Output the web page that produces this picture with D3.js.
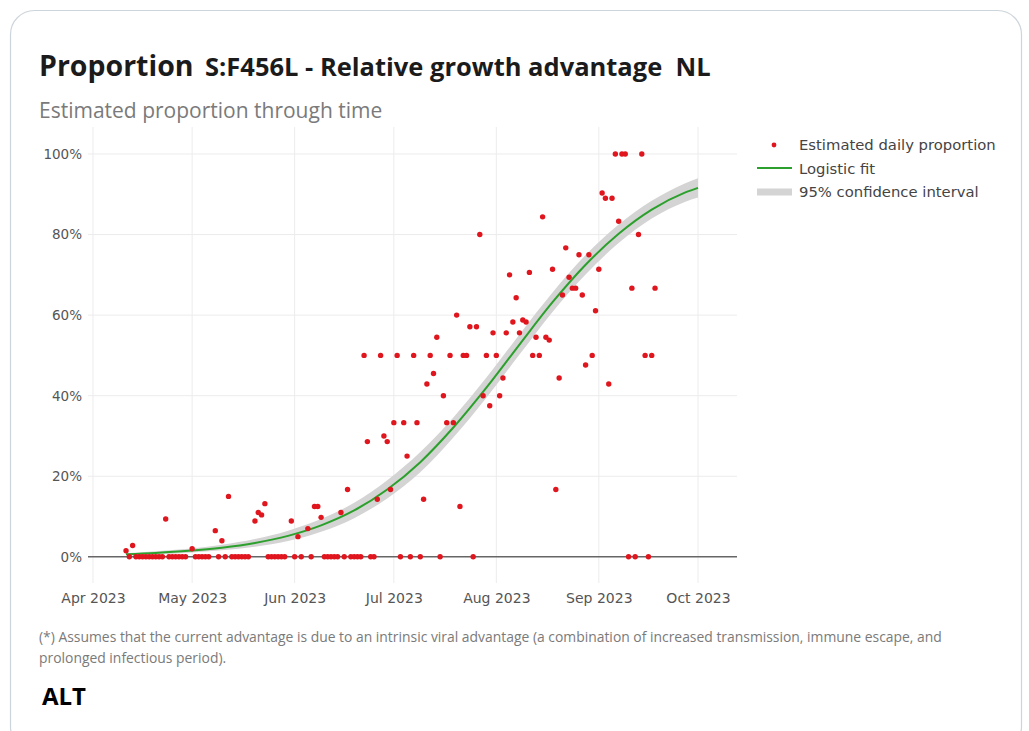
<!DOCTYPE html>
<html><head><meta charset="utf-8">
<script src="https://cdn.jsdelivr.net/npm/d3@7"></script>
<style>body{margin:0;background:#fff;} svg{display:block}</style>
</head><body><svg id="c" width="1029" height="731"></svg>
<script>
// ---------- data ----------
const obsDates = [
"2023-04-11","2023-04-12","2023-04-13","2023-04-14","2023-04-15","2023-04-16","2023-04-17","2023-04-18","2023-04-19","2023-04-20","2023-04-21","2023-04-22",
"2023-04-23","2023-04-24","2023-04-25","2023-04-26","2023-04-27","2023-04-28","2023-04-29",
"2023-05-01","2023-05-02","2023-05-03","2023-05-04","2023-05-05","2023-05-06",
"2023-05-08","2023-05-09","2023-05-10","2023-05-11","2023-05-12","2023-05-13","2023-05-14","2023-05-15","2023-05-16","2023-05-17","2023-05-18",
"2023-05-20","2023-05-21","2023-05-22","2023-05-23","2023-05-24","2023-05-25","2023-05-26","2023-05-27","2023-05-28","2023-05-29",
"2023-05-31","2023-06-01","2023-06-02","2023-06-03","2023-06-05","2023-06-06","2023-06-07","2023-06-08","2023-06-09",
"2023-06-10","2023-06-11","2023-06-12","2023-06-13","2023-06-14","2023-06-15","2023-06-16","2023-06-17",
"2023-06-18","2023-06-19","2023-06-20","2023-06-21","2023-06-22","2023-06-23","2023-06-24","2023-06-25","2023-06-26","2023-06-27","2023-06-28","2023-06-29","2023-06-30",
"2023-07-01","2023-07-02","2023-07-03","2023-07-04","2023-07-05","2023-07-06","2023-07-07","2023-07-08","2023-07-09","2023-07-10",
"2023-07-11","2023-07-12","2023-07-13","2023-07-14","2023-07-15","2023-07-16","2023-07-17","2023-07-18","2023-07-19","2023-07-20",
"2023-07-21","2023-07-22","2023-07-23","2023-07-24","2023-07-25","2023-07-26","2023-07-27","2023-07-28","2023-07-29","2023-07-30","2023-07-31",
"2023-08-01","2023-08-02","2023-08-03","2023-08-04","2023-08-05","2023-08-06","2023-08-07","2023-08-08","2023-08-09","2023-08-10",
"2023-08-11","2023-08-12","2023-08-13","2023-08-14","2023-08-15","2023-08-16","2023-08-17","2023-08-18","2023-08-19","2023-08-20",
"2023-08-21","2023-08-22","2023-08-23","2023-08-24","2023-08-25","2023-08-26","2023-08-27","2023-08-28","2023-08-29","2023-08-30","2023-08-31",
"2023-09-01","2023-09-02","2023-09-03","2023-09-04","2023-09-05","2023-09-06","2023-09-07","2023-09-08","2023-09-09","2023-09-10",
"2023-09-11","2023-09-12","2023-09-13","2023-09-14","2023-09-15","2023-09-16","2023-09-17","2023-09-18"
];
const obsValues = [
1.5,0,2.8,0,0,0,0,0,0,0,0,0,
9.4,0,0,0,0,0,0,
2.0,0,0,0,0,0,
6.5,0,4.0,0,15.0,0,0,0,0,0,0,
8.9,11.0,10.4,13.2,0,0,0,0,0,0,
8.9,0,5.0,0,7.0,0,12.5,12.5,9.8,
0,0,0,0,0,11.0,0,16.7,
0,0,0,0,50,28.6,0,0,14.3,50,30,28.6,16.7,
33.3,50,0,33.3,25,0,50,33.3,0,14.3,
42.9,50,45.5,54.5,0,40,33.3,50,33.3,60,
12.5,50,50,57.1,0,57.1,80,40,50,37.5,55.6,
50,40,44.4,55.6,70,58.3,64.3,55.6,58.8,58.3,
70.6,50,54.5,50,84.4,54.5,53.8,71.4,16.7,44.4,
65,76.7,69.4,66.7,66.7,75,65,47.6,75,50,61.1,
71.4,90.3,89,42.9,89,100,83.3,100,100,0,
66.7,0,80,100,50,0,50,66.7
];
const fitDates = ["2023-04-11","2023-04-20","2023-04-30","2023-05-10","2023-05-20","2023-05-30","2023-06-09","2023-06-19","2023-06-29","2023-07-09","2023-07-19","2023-07-29","2023-08-08","2023-08-18","2023-08-28","2023-09-07","2023-09-17","2023-09-27","2023-10-01"];
const fitValues = [0.66,0.97,1.49,2.27,3.45,5.2,7.8,11.5,16.7,23.5,32.1,42.0,52.7,63.2,72.5,80.2,86.2,90.4,91.6];
const ciLower  = [0.4,0.6,1.0,1.6,2.5,3.9,6.2,9.6,14.5,21.0,29.6,39.5,50.2,60.8,70.1,77.9,84.0,88.1,89.2];
const ciUpper  = [0.9,1.4,2.0,3.0,4.4,6.5,9.4,13.4,19.0,26.0,34.6,44.5,55.2,65.6,74.9,82.5,88.4,92.7,94.0];
const yTicks = [0,20,40,60,80,100];
const xTickDates = ["2023-04-01","2023-05-01","2023-06-01","2023-07-01","2023-08-01","2023-09-01","2023-10-01"];
const xTickLabels = ["Apr 2023","May 2023","Jun 2023","Jul 2023","Aug 2023","Sep 2023","Oct 2023"];
const legendLabels = ["Estimated daily proportion","Logistic fit","95% confidence interval"];
const titleMain = "Proportion";
const titleSub = "S:F456L - Relative growth advantage  NL";
const subtitle = "Estimated proportion through time";
const footLines = ["(*) Assumes that the current advantage is due to an intrinsic viral advantage (a combination of increased transmission, immune escape, and","prolonged infectious period)."];
const altLabel = "ALT";

// ---------- drawing ----------
(function () {
const parse = d3.utcParse("%Y-%m-%d");
const svg = d3.select("#c");
const W = 1029, H = 731;
svg.append("rect").attr("width", W).attr("height", H).attr("fill", "#fff");
svg.append("rect").attr("x", 10.5).attr("y", 10.5).attr("width", 1011).attr("height", 740)
  .attr("rx", 24).attr("fill", "#fff").attr("stroke", "#cdd5dc").attr("stroke-width", 1.2);

const pL = 88, pR = 737, pT = 127, pB = 583;
const x = d3.scaleUtc()
  .domain([new Date(Date.UTC(2023,2,30,12)), new Date(Date.UTC(2023,9,12,19))])
  .range([pL, pR]);
const y = d3.scaleLinear().domain([-6.5, 106.7]).range([pB, pT]);

const ff = "'DejaVu Sans', Verdana, sans-serif";
const of = "'Open Sans', 'Noto Sans', sans-serif";

// titles
svg.append("text").attr("x", 39).attr("y", 76).attr("font-family", of).attr("font-weight", 700)
  .attr("font-size", 28.5).attr("fill", "#1b1b1b").text(titleMain);
svg.append("text").attr("x", 205).attr("y", 76).attr("font-family", of).attr("font-weight", 700)
  .attr("font-size", 25.5).attr("fill", "#1b1b1b").style("white-space", "pre").text(titleSub);
svg.append("text").attr("x", 39).attr("y", 118).attr("font-family", of)
  .attr("font-size", 21).attr("fill", "#7a7a7a").text(subtitle);

// grid
const g = svg.append("g");
g.selectAll("line.vg").data(xTickDates).enter().append("line")
  .attr("x1", d => x(parse(d))).attr("x2", d => x(parse(d)))
  .attr("y1", pT).attr("y2", pB).attr("stroke", "#ececec").attr("stroke-width", 1);
g.selectAll("line.hg").data(yTicks.filter(v => v !== 0)).enter().append("line")
  .attr("x1", pL).attr("x2", pR).attr("y1", d => y(d)).attr("y2", d => y(d))
  .attr("stroke", "#ececec").attr("stroke-width", 1);

// axes (tick labels)
const yAxis = d3.axisLeft(y).tickValues(yTicks).tickFormat(d => d + "%").tickSize(0).tickPadding(6);
const ya = svg.append("g").attr("transform", `translate(${pL},0)`).call(yAxis);
ya.select(".domain").remove();
ya.selectAll("text").attr("font-family", ff).attr("font-size", 13.5).attr("fill", "#555");

const xAxis = d3.axisBottom(x).tickValues(xTickDates.map(parse))
  .tickFormat((d, i) => xTickLabels[i]).tickSize(0).tickPadding(10);
const xa = svg.append("g").attr("transform", `translate(0,${pB})`).call(xAxis);
xa.select(".domain").remove();
xa.selectAll("text").attr("font-family", ff).attr("font-size", 14).attr("fill", "#555");

// zero line
svg.append("line").attr("x1", pL).attr("x2", pR).attr("y1", y(0)).attr("y2", y(0))
  .attr("stroke", "#666").attr("stroke-width", 1.6);

// CI band
const fit = fitDates.map((d, i) => ({ t: parse(d), v: fitValues[i], lo: ciLower[i], hi: ciUpper[i] }));
const area = d3.area().x(d => x(d.t)).y0(d => y(d.lo)).y1(d => y(d.hi)).curve(d3.curveMonotoneX);
svg.append("path").datum(fit).attr("d", area).attr("fill", "#d4d4d4");

// logistic fit
const line = d3.line().x(d => x(d.t)).y(d => y(d.v)).curve(d3.curveMonotoneX);
svg.append("path").datum(fit).attr("d", line).attr("fill", "none")
  .attr("stroke", "#2ca02c").attr("stroke-width", 2);

// observations
const obs = obsDates.map((d, i) => ({ t: parse(d), v: obsValues[i] }));
svg.append("g").selectAll("circle").data(obs).enter().append("circle")
  .attr("cx", d => x(d.t)).attr("cy", d => y(d.v)).attr("r", 2.7).attr("fill", "#e0161e");

// legend
const lg = svg.append("g").attr("font-family", ff).attr("font-size", 14.8).attr("fill", "#444");
lg.append("circle").attr("cx", 774).attr("cy", 145).attr("r", 2.4).attr("fill", "#e0161e");
lg.append("line").attr("x1", 757).attr("x2", 792).attr("y1", 168).attr("y2", 168)
  .attr("stroke", "#2ca02c").attr("stroke-width", 2);
lg.append("line").attr("x1", 757).attr("x2", 792).attr("y1", 192).attr("y2", 192)
  .attr("stroke", "#d4d4d4").attr("stroke-width", 7);
lg.selectAll("text").data(legendLabels).enter().append("text")
  .attr("x", 799).attr("y", (d, i) => 150 + i * 23.5).attr("fill", "#444").text(d => d);

// footnote
svg.append("g").selectAll("text").data(footLines).enter().append("text")
  .attr("x", 39).attr("y", (d, i) => 642 + i * 21).attr("font-family", of)
  .attr("font-size", 13.9).attr("fill", "#7a7a7a").text(d => d);

svg.append("text").attr("x", 42).attr("y", 705).attr("font-family", of).attr("font-weight", 700)
  .attr("font-size", 24).attr("fill", "#000").text(altLabel);
})();
</script>
</body></html>
